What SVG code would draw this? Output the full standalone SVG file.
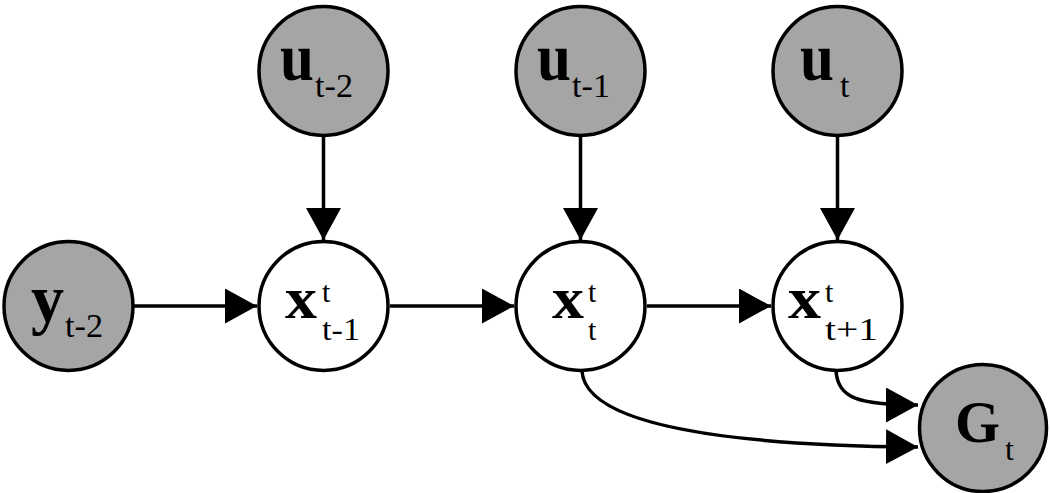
<svg xmlns="http://www.w3.org/2000/svg" width="1050" height="493" viewBox="0 0 1050 493">
<style>
.obs{fill:#a5a5a5;stroke:#000;stroke-width:3.5}
.lat{fill:#fff;stroke:#000;stroke-width:3.5}
.m{font-family:"Liberation Serif","DejaVu Serif",serif;font-weight:bold;fill:#000}
.s{font-family:"Liberation Serif","DejaVu Serif",serif;fill:#000}
.e{fill:none;stroke:#000;stroke-width:3.5}
</style>
<defs>
<marker id="ah" markerUnits="userSpaceOnUse" markerWidth="34" markerHeight="36" refX="32" refY="17.5" orient="auto" viewBox="0 0 34 36">
<path d="M0,0 L32,17.5 L0,35 z" fill="#000"/>
</marker>
</defs>
<g id="connectors">
<line class="e" x1="323.5" y1="137" x2="323.5" y2="240" marker-end="url(#ah)"/>
<line class="e" x1="580.5" y1="137" x2="580.5" y2="240" marker-end="url(#ah)"/>
<line class="e" x1="837.5" y1="137" x2="837.5" y2="240" marker-end="url(#ah)"/>
<line class="e" x1="134" y1="306" x2="257" y2="306" marker-end="url(#ah)"/>
<line class="e" x1="390" y1="306" x2="514" y2="306" marker-end="url(#ah)"/>
<line class="e" x1="647" y1="306" x2="771" y2="306" marker-end="url(#ah)"/>
<path class="e" d="M836,371 C838,398 858,405 918,405" marker-end="url(#ah)"/>
<path class="e" d="M582,371 C585,420 700,445 918,447" marker-end="url(#ah)"/>
</g>
<g id="u_t-2">
<circle class="obs" cx="323.5" cy="71" r="64.5"/>
<text class="m" x="280" y="80" font-size="68" textLength="34" lengthAdjust="spacingAndGlyphs">u</text>
<text class="s" x="315" y="97" font-size="34" textLength="38" lengthAdjust="spacingAndGlyphs">t-2</text>
</g>
<g id="u_t-1">
<circle class="obs" cx="580.5" cy="71" r="64.5"/>
<text class="m" x="537" y="80" font-size="68" textLength="34" lengthAdjust="spacingAndGlyphs">u</text>
<text class="s" x="572" y="97" font-size="34" textLength="38" lengthAdjust="spacingAndGlyphs">t-1</text>
</g>
<g id="u_t">
<circle class="obs" cx="837.5" cy="71" r="64.5"/>
<text class="m" x="800" y="80" font-size="68" textLength="34" lengthAdjust="spacingAndGlyphs">u</text>
<text class="s" x="840" y="97" font-size="34">t</text>
</g>
<g id="y_t-2">
<circle class="obs" cx="68.5" cy="306" r="64.5"/>
<text class="m" x="31" y="322" font-size="68" textLength="33" lengthAdjust="spacingAndGlyphs">y</text>
<text class="s" x="65" y="337" font-size="34" textLength="38" lengthAdjust="spacingAndGlyphs">t-2</text>
</g>
<g id="x_t-1">
<circle class="lat" cx="323.5" cy="306" r="64.5"/>
<text class="m" x="285" y="318" font-size="60" textLength="32" lengthAdjust="spacingAndGlyphs">x</text>
<text class="s" x="322" y="302" font-size="30">t</text>
<text class="s" x="322" y="340" font-size="32" textLength="38" lengthAdjust="spacingAndGlyphs">t-1</text>
</g>
<g id="x_t">
<circle class="lat" cx="580.5" cy="306" r="64.5"/>
<text class="m" x="552" y="318" font-size="60" textLength="32" lengthAdjust="spacingAndGlyphs">x</text>
<text class="s" x="588" y="302" font-size="30">t</text>
<text class="s" x="588" y="340" font-size="30">t</text>
</g>
<g id="x_t+1">
<circle class="lat" cx="837.5" cy="306" r="64.5"/>
<text class="m" x="788" y="318" font-size="60" textLength="33" lengthAdjust="spacingAndGlyphs">x</text>
<text class="s" x="825" y="302" font-size="30">t</text>
<text class="s" x="825" y="340" font-size="32" textLength="53" lengthAdjust="spacingAndGlyphs">t+1</text>
</g>
<g id="G_t">
<circle class="obs" cx="983" cy="428" r="63.5"/>
<text class="m" x="955" y="442" font-size="60" textLength="45" lengthAdjust="spacingAndGlyphs">G</text>
<text class="s" x="1005" y="460" font-size="32">t</text>
</g>
</svg>
